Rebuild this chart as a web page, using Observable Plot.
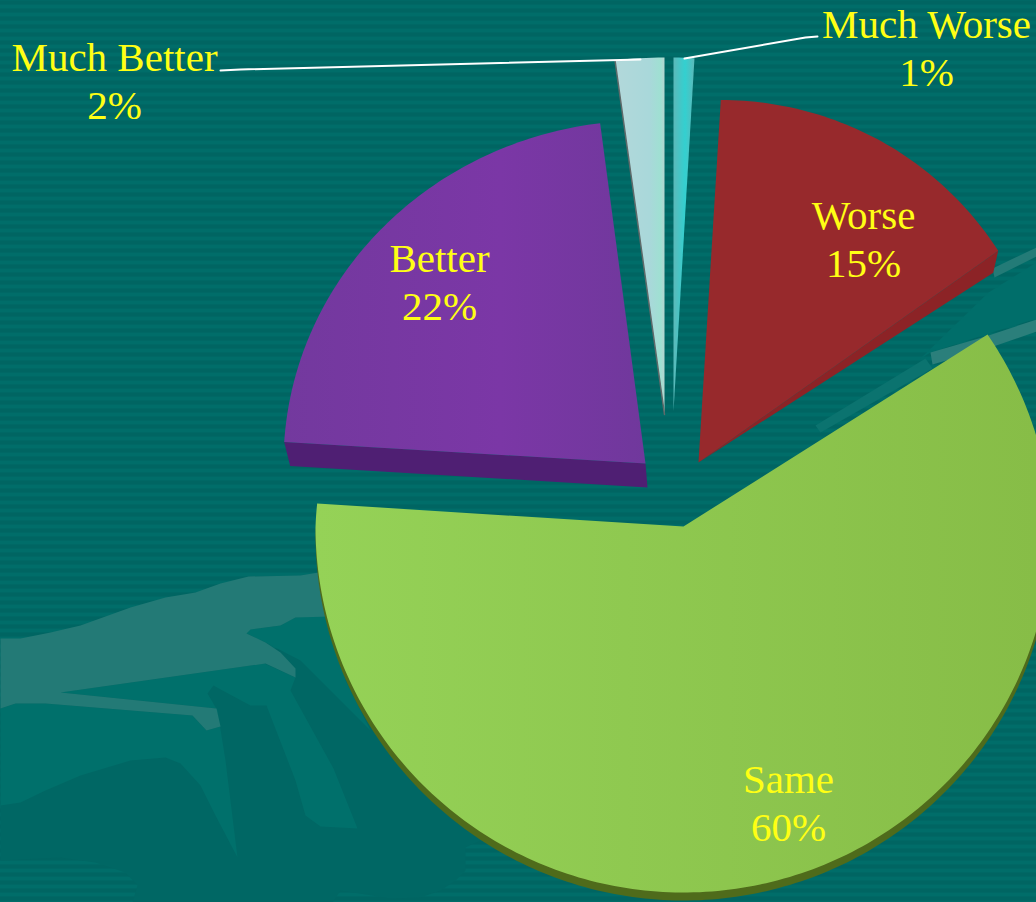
<!DOCTYPE html>
<html>
<head>
<meta charset="utf-8">
<script src="https://cdn.jsdelivr.net/npm/d3@7"></script>
<script src="https://cdn.jsdelivr.net/npm/@observablehq/plot@0.6"></script>
<style>html,body{margin:0;padding:0;background:#006d69;overflow:hidden}svg{display:block}</style>
</head>
<body>
<div id="chart"></div>
<script>
// Data
const categories = ["Much Worse", "Worse", "Same", "Better", "Much Better"];
const values = [1, 15, 60, 22, 2];

// Slice styles and layout (exploded, slightly tilted pie)
const topColors = ["url(#cyanGrad)", "#97292c", "url(#greenGrad)", "url(#purpleGrad)", "url(#paleGrad)"];
const sideColors = [null, "#8c2326", "#4f6b1b", "#4f1f73", null];
const apexX = [673, 698, 683, 645, 664];
const apexY = [411, 462, 526, 463, 414];
const radiusX = [334, 355, 368, 362, 395];
const radiusY = [354, 362, 366, 343, 357];
const shear = [0, 21, 0, 0, 0];
const taper = [0, 0, 0.04, 0, 0];
const labelX = [926, 863, 788, 439, 114];
const labelY = [46, 237, 801, 280, 79];

// Slice geometry derived from the values
const total = d3.sum(values);
let running = 0;
const slices = categories.map((name, i) => {
  const a0 = running / total * 2 * Math.PI;
  running += values[i];
  const a1 = running / total * 2 * Math.PI;
  return {name, i, a0, a1, value: values[i]};
});
function rim(s, a) {
  const f = 1 - taper[s.i] * Math.max(Math.cos(a), 0);
  return {
    x: apexX[s.i] + radiusX[s.i] * f * Math.sin(a),
    y: apexY[s.i] - radiusY[s.i] * f * Math.cos(a) - shear[s.i] * Math.sin(a)
  };
}
function sector(s) {
  const n = Math.max(4, Math.ceil((s.a1 - s.a0) * 60));
  const arc = d3.range(n + 1).map(k => rim(s, s.a0 + (s.a1 - s.a0) * k / n));
  const apex = {x: apexX[s.i], y: apexY[s.i]};
  return [apex, ...arc, apex];
}
const area = (pts, fill, extra = {}) =>
  Plot.line(pts, {x: d => d[0] ?? d.x, y: d => d[1] ?? d.y, fill, stroke: "none", ...extra});

const sectors = slices.map(sector);

// Side faces
const worse = slices[1], better = slices[3], paleSlice = slices[4];
const sameRimFace = sectors[2].map(p => ({x: p.x, y: p.y + 8}));
const betterEdgeA = rim(better, better.a0);
const betterSide = [
  betterEdgeA,
  {x: apexX[3], y: apexY[3]},
  {x: apexX[3] + 2, y: apexY[3] + 24},
  {x: betterEdgeA.x + 6, y: betterEdgeA.y + 24}
];
const worseEnd = rim(worse, worse.a1);
const worseSide = [
  worseEnd,
  {x: worseEnd.x - 5, y: worseEnd.y + 22},
  {x: apexX[1], y: apexY[1]}
];
const paleEdge = [rim(paleSlice, paleSlice.a0), {x: apexX[4], y: apexY[4]}];

// Background artwork
const stripes = d3.range(2, 902, 8);
const darkBack = [[0,700],[340,640],[420,750],[480,840],[465,847],[465,870],[455,880],[440,890],[420,897],[390,898],[340,890],[332,902],[132,902],[137,885],[125,872],[95,862],[60,857],[0,860]];
const lightBand = [[0,638],[20,638],[50,632],[80,625],[130,607],[165,597],[195,592],[220,583],[248,576],[300,575],[330,570],[330,616],[295,617],[280,625],[250,629],[246,633],[265,642],[280,652],[295,668],[295,677],[265,663],[60,692],[216,708],[220,726],[206,730],[192,715],[45,703],[15,703],[0,708]];
const midBand = [[0,708],[15,703],[45,703],[192,715],[206,730],[220,726],[216,708],[60,692],[264,663],[295,677],[290,690],[333,768],[357,828],[320,826],[305,815],[295,780],[266,705],[250,705],[222,690],[213,685],[207,693],[217,710],[225,760],[237,857],[215,815],[200,785],[180,763],[165,757],[130,760],[80,775],[45,790],[20,802],[0,805]];
const midNotch = [[246,633],[250,629],[280,625],[295,617],[330,614],[345,680],[370,730],[300,660],[265,642]];
const streakUpper = [[992,268],[1036,247],[1036,256],[994,277]];
const streakLower = [[930,352],[985,336],[1036,319],[1036,331],[990,347],[932,364]];
const streakMid = [[815,425],[925,358],[932,368],[820,432]];
const midRight = [[988,292],[1036,262],[1036,318],[985,334],[930,352],[920,358]];

// Leader lines
const leaderBetter = [[220,70],[240,69],[640,59]];
const leaderWorse = [[817,36],[805,37],[684,58]];

const gradient = (d, id, stops, attrs = {}) => {
  const g = d.append("linearGradient").attr("id", id);
  for (const k in attrs) g.attr(k, attrs[k]);
  stops.forEach(([o, c]) => g.append("stop").attr("offset", o).attr("stop-color", c));
};
const defs = () => {
  const s = d3.create("svg:g");
  const d = s.append("defs");
  gradient(d, "greenGrad", [[0, "#95d257"], [1, "#87bd47"]], {gradientUnits: "userSpaceOnUse", x1: 315, x2: 1036, y1: 0, y2: 0});
  gradient(d, "purpleGrad", [[0, "#73399e"], [0.6, "#7b37a6"], [1, "#70389c"]], {gradientUnits: "userSpaceOnUse", x1: 283, x2: 645, y1: 0, y2: 0});
  gradient(d, "cyanGrad", [[0, "#5cb9b9"], [0.55, "#33d0d0"], [1, "#5cb9b9"]]);
  gradient(d, "paleGrad", [[0, "#b2d8da"], [0.7, "#a9d8da"], [0.92, "#9fe0d2"], [1, "#b5d5d0"]]);
  return s.node();
};

const chart = Plot.plot({
  width: 1036,
  height: 902,
  margin: 0,
  style: {background: "#006d69", overflow: "hidden"},
  x: {domain: [0, 1036], range: [0, 1036], axis: null},
  y: {domain: [0, 902], range: [0, 902], axis: null},
  marks: [
    defs,
    Plot.ruleY(stripes, {y: d => d, stroke: "#006562", strokeWidth: 4}),
    area(midRight, "#006e6a"),
    area(streakMid, "#0b736f"),
    area(streakUpper, "#237b77"),
    area(streakLower, "#2b7f7b"),
    area(darkBack, "#006764"),
    area(midNotch, "#00706b"),
    area(midBand, "#00706b"),
    area(lightBand, "#237a76"),
    // side faces
    area(sameRimFace, sideColors[2]),
    area(betterSide, sideColors[3]),
    area(worseSide, sideColors[1]),
    // top faces
    ...slices.map((s, i) => area(sectors[i], topColors[i])),
    Plot.line(paleEdge, {x: "x", y: "y", stroke: "#5f6a6a", strokeWidth: 1.5}),
    // leader lines
    Plot.line(leaderBetter, {x: d => d[0], y: d => d[1], stroke: "#fff", strokeWidth: 2}),
    Plot.line(leaderWorse, {x: d => d[0], y: d => d[1], stroke: "#fff", strokeWidth: 2}),
    // labels
    Plot.text(slices, {
      x: d => labelX[d.i],
      y: d => labelY[d.i],
      text: d => `${d.name}\n${d.value}%`,
      fill: "#ffff14",
      fontFamily: "'Liberation Serif', serif",
      fontSize: 41,
      lineHeight: 1.17,
      textAnchor: "middle",
      lineAnchor: "middle"
    })
  ]
});
document.getElementById("chart").appendChild(chart);
</script>
</body>
</html>
